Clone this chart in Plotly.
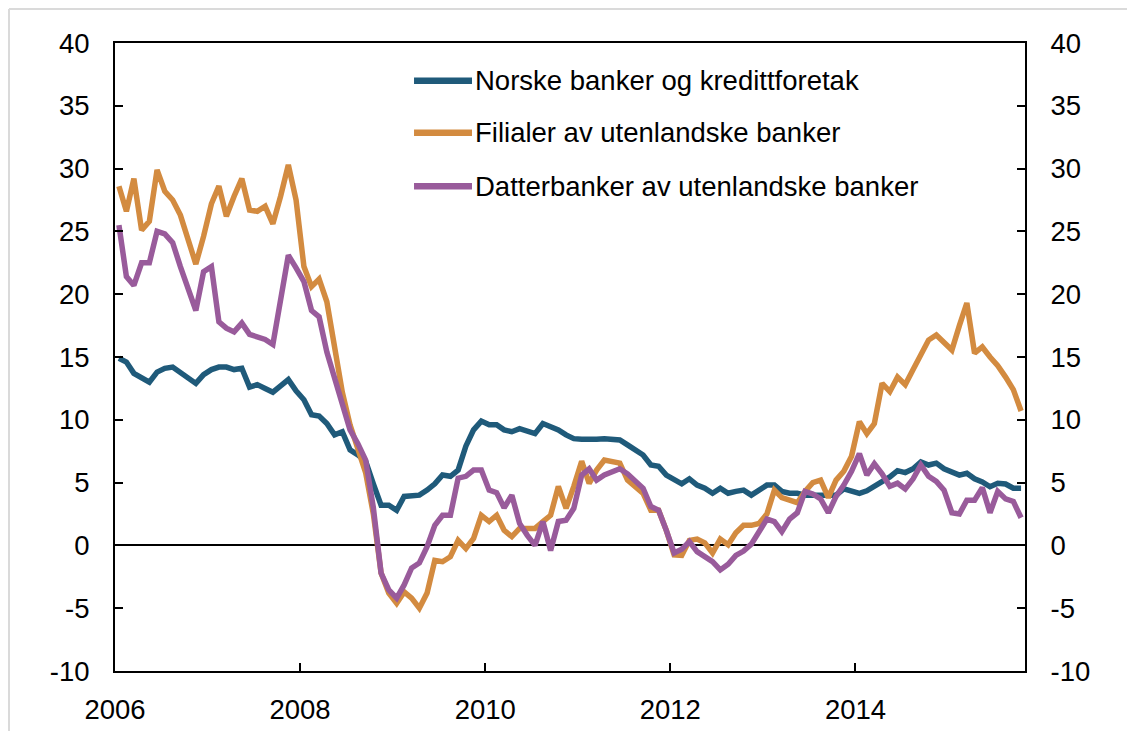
import pandas as pd
import plotly.graph_objects as go

OUTPUT_FILE  = 'out.html'
FIG_WIDTH    = 1119
FIG_HEIGHT   = 723
FONT_NAME    = 'Liberation Sans, Arial, sans-serif'
FONT_SIZE    = 27.5
TEXT_COLOR   = 'black'
LINE_WIDTH   = 5.5
AXIS_WIDTH   = 2

# monthly observations, Jan 2006 - Oct 2015
months = pd.date_range('2006-01-01', '2015-10-01', freq='MS')

series_names  = ['Norske banker og kredittforetak',
                 'Filialer av utenlandske banker',
                 'Datterbanker av utenlandske banker']
series_colors = ['#1F5A7A', '#D38B40', '#995B9B']

norske = [14.9, 14.6, 13.7, 13.4, 13.0, 13.8, 14.1, 14.2, 13.8, 13.3, 12.9, 13.6,
          14.0, 14.2, 14.2, 14.0, 14.1, 12.6, 12.8, 12.5, 12.2, 12.7, 13.2, 12.3,
          11.6, 10.4, 10.3, 9.7, 8.8, 9.05, 7.6, 7.2, 6.7, 4.9, 3.2, 3.2,
          2.8, 3.9, 3.9, 4.0, 4.4, 4.9, 5.6, 5.5, 6.0, 7.9, 9.2, 9.9,
          9.6, 9.6, 9.2, 9.05, 9.3, 9.05, 8.9, 9.7, 9.45, 9.2, 8.8, 8.5,
          8.45, 8.4, 8.45, 8.5, 8.5, 8.4, 8.0, 7.6, 7.2, 6.4, 6.3, 5.6,
          5.2, 4.9, 5.3, 4.8, 4.55, 4.15, 4.55, 4.15, 4.3, 4.4, 4.0, 4.4,
          4.8, 4.8, 4.3, 4.15, 4.15, 4.0, 4.0, 3.9, 3.95, 4.0, 4.5, 4.3,
          4.15, 4.35, 4.7, 5.1, 5.45, 5.95, 5.8, 6.1, 6.65, 6.4, 6.55, 6.1,
          5.87, 5.6, 5.74, 5.3, 5.05, 4.67, 4.94, 4.89, 4.55, 4.55]

filialer = [28.6, 26.6, 29.2, 25.1, 25.8, 29.9, 28.2, 27.5, 26.3, 24.3, 22.4, 24.6,
            27.2, 28.6, 26.2, 27.8, 29.2, 26.7, 26.6, 27.0, 25.6, 27.8, 30.3, 27.5,
            22.2, 20.6, 21.2, 19.4, 15.9, 12.2, 9.6, 7.7, 5.8, 2.5, -2.2, -3.8,
            -4.6, -3.7, -4.2, -5.0, -3.8, -1.2, -1.3, -0.9, 0.4, -0.25, 0.56, 2.4,
            1.9, 2.4, 1.2, 0.7, 1.35, 1.35, 1.35, 1.9, 2.4, 4.7, 2.95, 4.7,
            6.7, 4.94, 6.0, 6.8, 6.7, 6.55, 5.2, 4.7, 4.15, 2.8, 2.8, 1.2,
            -0.75, -0.8, 0.4, 0.5, 0.2, -0.6, 0.5, 0.05, 1.0, 1.6, 1.6, 1.75,
            2.5, 4.4, 3.8, 3.6, 3.4, 4.3, 5.0, 5.2, 3.8, 5.2, 5.9, 7.1,
            9.85, 8.9, 9.7, 12.9, 12.24, 13.4, 12.8, 14.0, 15.3, 16.35, 16.75, 16.2,
            15.55, 17.5, 19.3, 15.3, 15.8, 15.0, 14.3, 13.4, 12.4, 10.7]

datterbanker = [25.5, 21.4, 20.7, 22.5, 22.5, 25.0, 24.8, 24.1, 22.2, 20.6, 18.7, 21.8,
                22.2, 17.8, 17.3, 17.0, 17.7, 16.8, 16.6, 16.4, 16.0, 19.5, 23.1, 22.1,
                21.0, 18.7, 18.2, 15.4, 13.4, 11.3, 9.2, 8.1, 6.8, 3.0, -2.2, -3.55,
                -4.2, -3.15, -1.8, -1.4, -0.1, 1.6, 2.4, 2.4, 5.35, 5.5, 6.0, 6.0,
                4.4, 4.2, 3.0, 4.0, 1.75, 0.8, 0.0, 1.9, -0.4, 1.9, 2.0, 2.95,
                5.6, 6.1, 5.2, 5.6, 5.9, 6.1, 5.7, 5.1, 4.55, 3.1, 2.8, 1.2,
                -0.6, -0.3, 0.3, -0.5, -0.9, -1.3, -1.95, -1.5, -0.8, -0.45, 0.1, 1.0,
                2.1, 1.9, 1.1, 2.1, 2.6, 4.3, 4.1, 3.7, 2.6, 3.9, 4.8, 5.9,
                7.3, 5.6, 6.5, 5.7, 4.7, 4.95, 4.5, 5.3, 6.4, 5.5, 5.1, 4.4,
                2.6, 2.5, 3.6, 3.6, 4.6, 2.6, 4.3, 3.7, 3.5, 2.2]

x_tick_values = ['2006-01-01', '2008-01-01', '2010-01-01', '2012-01-01', '2014-01-01']
x_tick_labels = ['2006', '2008', '2010', '2012', '2014']
y_tick_values = [-10, -5, 0, 5, 10, 15, 20, 25, 30, 35, 40]
y_tick_labels = ['-10', '-5', '0', '5', '10', '15', '20', '25', '30', '35', '40']
y_range       = [-10, 40]
x_range       = ['2006-01-01', '2015-11-01']

# margins chosen so the plot area lands on the same pixels as the original
margin = dict(l=107, r=102, t=35, b=60)
plot_w = FIG_WIDTH - margin['l'] - margin['r']
plot_h = FIG_HEIGHT - margin['t'] - margin['b']

fig = go.Figure()

# last series goes on the right-hand axis (same scale) so that axis gets drawn
y_refs = ['y', 'y', 'y2']
for name, color, values, yref in zip(series_names, series_colors, [norske, filialer, datterbanker], y_refs):
    fig.add_trace(go.Scatter(x=months, y=values, mode='lines', name=name, yaxis=yref,
                             xperiod='M1', xperiodalignment='middle',
                             line=dict(color=color, width=LINE_WIDTH)))

axis_style = dict(showline=True, linecolor='black', linewidth=AXIS_WIDTH,
                  ticks='inside', ticklen=8, tickwidth=AXIS_WIDTH, tickcolor='black',
                  showgrid=False, automargin=False,
                  tickfont=dict(family=FONT_NAME, size=FONT_SIZE, color=TEXT_COLOR))

fig.update_layout(width=FIG_WIDTH, height=FIG_HEIGHT,
                  margin=margin,
                  paper_bgcolor='white', plot_bgcolor='white',
                  font=dict(family=FONT_NAME, size=FONT_SIZE, color=TEXT_COLOR),
                  showlegend=False,
                  xaxis=dict(axis_style, range=x_range, tickmode='array',
                             tickvals=x_tick_values, ticktext=x_tick_labels,
                             mirror=True, ticklabelstandoff=13),
                  yaxis=dict(axis_style, range=y_range, tickmode='array',
                             tickvals=y_tick_values, ticktext=y_tick_labels, mirror=True,
                             zeroline=True, zerolinecolor='black', zerolinewidth=AXIS_WIDTH,
                             ticklabelstandoff=18),
                  yaxis2=dict(axis_style, range=y_range, tickmode='array',
                              tickvals=y_tick_values, ticktext=y_tick_labels,
                              overlaying='y', side='right',
                              zeroline=False, ticklabelstandoff=18))

# hand-drawn legend inside the plot (longer line samples than plotly's own)
legend_y = [0.940, 0.857, 0.772]
for name, color, ly in zip(series_names, series_colors, legend_y):
    fig.add_shape(type='line', xref='paper', yref='paper',
                  x0=0.3286, x1=0.3923, y0=ly, y1=ly,
                  line=dict(color=color, width=LINE_WIDTH + 1))
    fig.add_annotation(text=name, xref='paper', yref='paper', x=0.3934, y=ly,
                       xanchor='left', yanchor='middle', showarrow=False,
                       font=dict(family=FONT_NAME, size=FONT_SIZE, color=TEXT_COLOR))

# thin grey frame on the top and left edge of the picture
top_y  = 1 + (margin['t'] - 1) / plot_h
left_x = -(margin['l'] - 1) / plot_w
fig.add_shape(type='line', xref='paper', yref='paper', x0=left_x, x1=1 + margin['r'] / plot_w,
              y0=top_y, y1=top_y, line=dict(color='#DADADA', width=2))
fig.add_shape(type='line', xref='paper', yref='paper', x0=left_x, x1=left_x,
              y0=top_y, y1=-margin['b'] / plot_h, line=dict(color='#DADADA', width=2))

fig.write_html(OUTPUT_FILE)
